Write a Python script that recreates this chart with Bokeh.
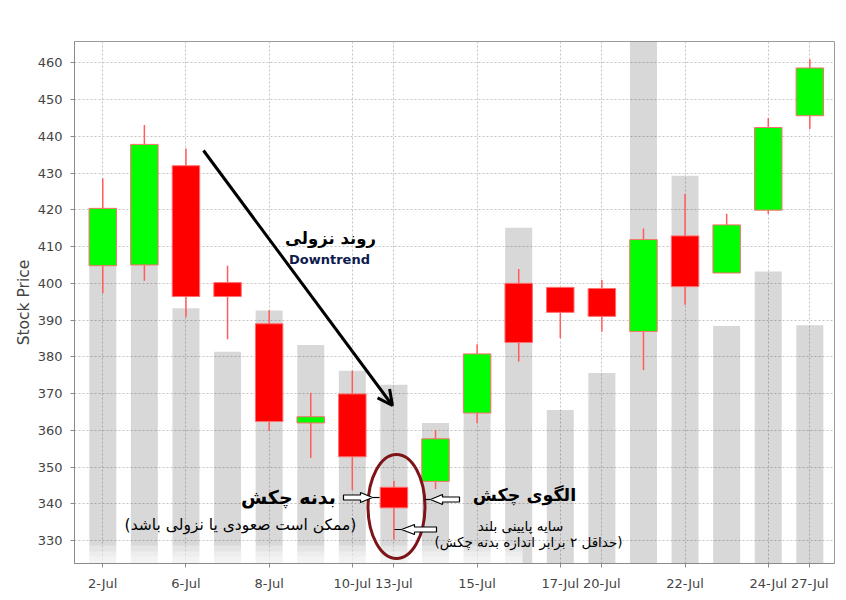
from bokeh.plotting import figure
from bokeh.models import Range1d, FixedTicker, Label, Arrow, OpenHead, ColumnDataSource
from bokeh.embed import file_html
from bokeh.resources import INLINE

# ---------------- data ----------------
dates = ["2-Jul", "3-Jul", "6-Jul", "7-Jul", "8-Jul", "9-Jul", "10-Jul", "13-Jul", "14-Jul",
         "15-Jul", "16-Jul", "17-Jul", "20-Jul", "21-Jul", "22-Jul", "23-Jul", "24-Jul", "27-Jul"]
opens = [404.8, 405.0, 432.0, 400.2, 389.0, 362.0, 369.9, 344.5, 346.1,
         364.7, 400.0, 398.9, 398.6, 386.9, 412.9, 402.8, 419.9, 445.6]
closes = [420.4, 437.8, 396.4, 396.4, 362.4, 363.7, 352.8, 338.9, 357.7,
          380.8, 383.9, 392.1, 391.0, 411.9, 399.1, 415.9, 442.4, 458.6]
highs = [428.5, 443.1, 436.7, 404.8, 392.7, 370.2, 376.2, 346.3, 360.1,
         383.4, 403.9, 398.9, 400.9, 414.9, 424.3, 418.9, 445.0, 461.0]
lows = [397.3, 400.7, 390.8, 384.8, 359.9, 352.5, 343.8, 330.2, 344.0,
        361.9, 378.7, 385.1, 386.8, 376.4, 394.2, 402.8, 418.9, 442.0]
# volume bars, drawn on the price scale (top of each grey bar)
volume_level = [412.0, 420.0, 393.2, 381.4, 392.6, 383.2, 376.2, 372.4, 362.0,
                372.0, 415.1, 365.5, 375.6, 480.0, 429.3, 388.4, 403.2, 388.6]
tick_dates = ["2-Jul", "6-Jul", "8-Jul", "10-Jul", "13-Jul", "15-Jul", "17-Jul",
              "20-Jul", "22-Jul", "24-Jul", "27-Jul"]
y_ticks = [330, 340, 350, 360, 370, 380, 390, 400, 410, 420, 430, 440, 450, 460]

# ---------------- figure ----------------
p = figure(width=840, height=596, output_backend="svg", toolbar_location=None,
           x_range=Range1d(-0.680, 17.593), y_range=Range1d(323.76, 465.80),
           min_border_left=74, min_border_right=6, min_border_top=41, min_border_bottom=33)
p.background_fill_color = "white"
p.border_fill_color = "white"
p.outline_line_color = "#9a9a9a"
p.outline_line_width = 1

xs = list(range(len(dates)))
ticks = [dates.index(d) for d in tick_dates]

p.xaxis.ticker = FixedTicker(ticks=ticks)
p.xaxis.major_label_overrides = {i: dates[i] for i in ticks}
p.yaxis.ticker = FixedTicker(ticks=y_ticks)
p.xgrid.ticker = FixedTicker(ticks=ticks)
p.ygrid.ticker = FixedTicker(ticks=y_ticks)
for g in (p.xgrid, p.ygrid):
    g.grid_line_color = "#c4c4c4"
    g.grid_line_dash = "2 2"
    g.grid_line_width = 1

for ax in (p.xaxis, p.yaxis):
    ax.axis_line_color = "#8a8a8a"
    ax.major_tick_line_color = "#8a8a8a"
    ax.minor_tick_line_color = None
    ax.major_tick_out = 4
    ax.major_tick_in = 0
    ax.major_label_text_font = "DejaVu Sans"
    ax.major_label_text_font_size = "13px"
    ax.major_label_text_color = "#444444"
p.yaxis.major_label_standoff = 8
p.xaxis.major_label_standoff = 8
p.yaxis.axis_label = "Stock Price"
p.yaxis.axis_label_text_font = "DejaVu Sans"
p.yaxis.axis_label_text_font_style = "normal"
p.yaxis.axis_label_text_font_size = "15.5px"
p.yaxis.axis_label_text_color = "#444444"
p.yaxis.axis_label_standoff = 2

top = [max(o, c) for o, c in zip(opens, closes)]
bot = [min(o, c) for o, c in zip(opens, closes)]
colors = ["#00ff00" if c >= o else "#ff0000" for o, c in zip(opens, closes)]
src = ColumnDataSource(dict(x=xs, open=opens, close=closes, high=highs, low=lows,
                            top=top, bot=bot, color=colors, vol=volume_level,
                            base=[300.0] * len(xs)))

# volume bars (semi-transparent so the dotted grid shows through)
p.vbar(x="x", top="vol", bottom="base", width=0.65, source=src,
       fill_color="black", fill_alpha=0.153, line_color=None)


# ---------------- annotation helpers (positions given in page pixels) ----------------
def dx(px):
    return (px - 102.3) / 41.59


def dy(py):
    return 460 - (py - 62.3) / 3.675


# faded strip at the bottom-left of the picture
for fy in (545, 551, 556):
    p.quad(left=[dx(75)], right=[dx(522)], bottom=[dy(570)], top=[dy(fy)],
           fill_color="white", fill_alpha=0.33, line_color=None)

# wicks
p.segment(x0="x", y0="low", x1="x", y1="high", source=src,
          line_color="#ff5c5c", line_width=1.5)
# bodies
p.vbar(x="x", top="top", bottom="bot", width=0.66, source=src,
       fill_color="color", line_color="#ff6f6f", line_width=1)

# downtrend arrow
p.add_layout(Arrow(end=OpenHead(size=15, line_width=3, line_color="black"),
                   x_start=dx(203), y_start=dy(150), x_end=dx(392), y_end=dy(405),
                   line_width=3, line_color="black"))

# ellipse around the hammer
p.ellipse(x=[dx(396)], y=[dy(506)], width=57, height=104,
          width_units="screen", height_units="screen",
          fill_alpha=0, line_color="#7d1418", line_width=3)


def block_arrow(tip, head_tip, head_base, tail, y):
    hh, sh = 5, 2.5
    pts = [(head_tip, y), (head_base, y - hh), (head_base, y - sh), (tail, y - sh),
           (tail, y + sh), (head_base, y + sh), (head_base, y + hh)]
    p.patch([dx(a) for a, b in pts], [dy(b) for a, b in pts],
            fill_color="white", line_color="black", line_width=1.2)
    p.line([dx(head_tip), dx(tip)], [dy(y), dy(y)], line_color="black", line_width=1.2)


block_arrow(379, 372, 360, 343, 497)
block_arrow(424, 430, 442, 459, 499)
block_arrow(394, 401, 414, 436, 529)

labels = [
    ("روند نزولی", 330, 238, "16.5px", "bold", "black"),
    ("Downtrend", 329, 259, "13px", "bold", "#0d1a4d"),
    ("بدنه چکش", 288, 496, "19px", "bold", "black"),
    ("الگوی چکش", 524, 494, "17.5px", "bold", "black"),
    ("(ممکن است صعودی یا نزولی باشد)", 240, 524, "15.5px", "normal", "black"),
    ("سایه پایینی بلند", 520, 525, "13.5px", "normal", "black"),
    ("(حداقل ۲ برابر اندازه بدنه چکش)", 528, 541, "13.5px", "normal", "black"),
]
for txt, px, py, size, style, col in labels:
    p.add_layout(Label(x=dx(px), y=dy(py), text=txt, text_align="center",
                       text_baseline="middle", text_font="DejaVu Sans",
                       text_font_size=size, text_font_style=style, text_color=col))

open("out.html", "w").write(file_html(p, INLINE))
